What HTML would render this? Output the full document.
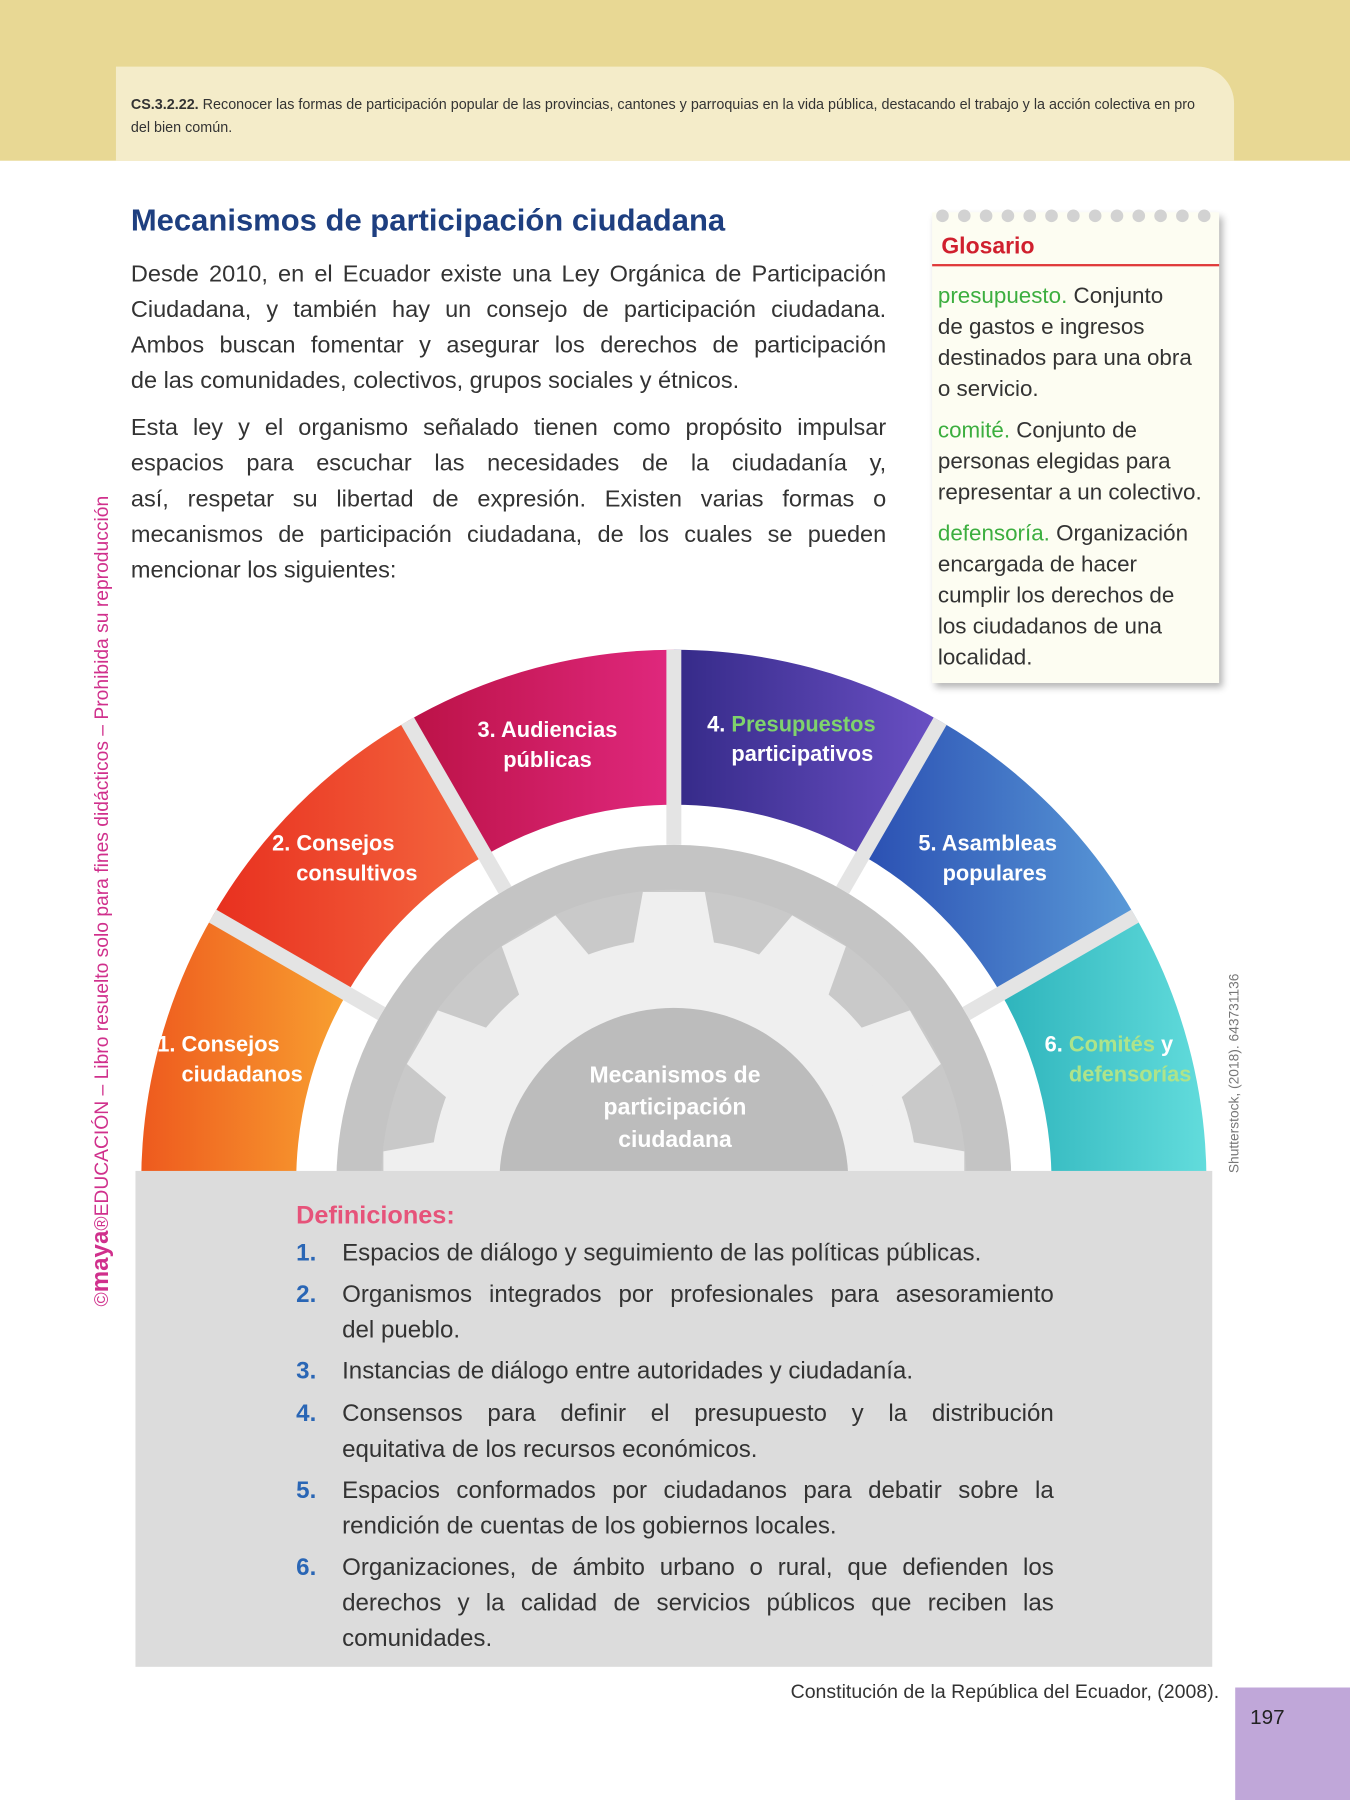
<!DOCTYPE html>
<html><head><meta charset="utf-8">
<style>
html,body{margin:0;padding:0;background:#fff;}
body{width:1350px;height:1800px;overflow:hidden;position:relative;}
#w{position:absolute;left:0;top:0;width:1176px;height:1568px;transform:scale(1.14796);transform-origin:0 0;font-family:"Liberation Sans",sans-serif;color:#333;}
.a{position:absolute;white-space:nowrap;}
.p{position:absolute;left:114px;width:658px;font-size:20.5px;line-height:31px;color:#333;}
.p div{white-space:nowrap;text-align:justify;text-align-last:justify;}
.p div.l{text-align-last:left;}
.g{position:absolute;left:817px;font-size:19.5px;line-height:27px;color:#333;}
.gr{color:#3cae3f;}
.lab{position:absolute;color:#fff;font-weight:bold;font-size:19px;line-height:26px;white-space:nowrap;}
.d{position:absolute;left:258px;width:660px;font-size:21px;line-height:31px;color:#333;}
.d b{position:absolute;left:0;color:#2a66b5;}
.d .t{margin-left:40px;}
.d .t div{white-space:nowrap;text-align:justify;text-align-last:justify;}
.d .t div.l{text-align-last:left;}
</style></head><body><div id="w">
<div class="a" style="left:0;top:0;width:1176px;height:140px;background:#e8d894;"></div>
<div class="a" style="left:101px;top:58px;width:974px;height:82px;background:#f4ecc9;border-top-right-radius:32px;"></div>
<div class="a" style="left:114px;top:81px;font-size:12.5px;line-height:20px;color:#333;"><b>CS.3.2.22.</b> Reconocer las formas de participación popular de las provincias, cantones y parroquias en la vida pública, destacando el trabajo y la acción colectiva en pro<br>del bien común.</div>

<div class="a" style="left:114px;top:177px;font-size:27px;font-weight:bold;color:#1e3f80;">Mecanismos de participación ciudadana</div>

<div class="p" style="top:223px;">
<div>Desde 2010, en el Ecuador existe una Ley Orgánica de Participación</div>
<div>Ciudadana, y también hay un consejo de participación ciudadana.</div>
<div>Ambos buscan fomentar y asegurar los derechos de participación</div>
<div class="l">de las comunidades, colectivos, grupos sociales y étnicos.</div>
</div>
<div class="p" style="top:357px;">
<div>Esta ley y el organismo señalado tienen como propósito impulsar</div>
<div>espacios para escuchar las necesidades de la ciudadanía y,</div>
<div>así, respetar su libertad de expresión. Existen varias formas o</div>
<div>mecanismos de participación ciudadana, de los cuales se pueden</div>
<div class="l">mencionar los siguientes:</div>
</div>

<!-- Glosario -->
<div class="a" style="left:812px;top:185px;width:250px;height:410px;background:#fdfdf2;box-shadow:3px 4px 6px rgba(0,0,0,0.3);"></div>
<svg class="a" style="left:812px;top:180px;" width="252" height="16">
<g fill="#d2d2d2">
<circle cx="9" cy="8" r="5.5"/><circle cx="28" cy="8" r="5.5"/><circle cx="47" cy="8" r="5.5"/><circle cx="66" cy="8" r="5.5"/><circle cx="85" cy="8" r="5.5"/><circle cx="104" cy="8" r="5.5"/><circle cx="123" cy="8" r="5.5"/><circle cx="142" cy="8" r="5.5"/><circle cx="161" cy="8" r="5.5"/><circle cx="180" cy="8" r="5.5"/><circle cx="199" cy="8" r="5.5"/><circle cx="218" cy="8" r="5.5"/><circle cx="237" cy="8" r="5.5"/>
</g></svg>
<div class="a" style="left:820px;top:204px;font-size:20px;font-weight:bold;color:#d0202e;">Glosario</div>
<div class="a" style="left:812px;top:230px;width:250px;height:2px;background:#e03a3a;"></div>
<div class="g" style="top:245px;"><span class="gr">presupuesto.</span> Conjunto<br>de gastos e ingresos<br>destinados para una obra<br>o servicio.</div>
<div class="g" style="top:362px;"><span class="gr">comité.</span> Conjunto de<br>personas elegidas para<br>representar a un colectivo.</div>
<div class="g" style="top:452px;"><span class="gr">defensoría.</span> Organización<br>encargada de hacer<br>cumplir los derechos de<br>los ciudadanos de una<br>localidad.</div>

<!-- Diagram -->
<svg class="a" style="left:0;top:0;" width="1176" height="1568">
<defs>
<linearGradient id="g1" x1="0" x2="1"><stop offset="0" stop-color="#ee5a1e"/><stop offset="1" stop-color="#f8a030"/></linearGradient>
<linearGradient id="g2" x1="0" x2="1"><stop offset="0" stop-color="#e8301f"/><stop offset="1" stop-color="#f4673f"/></linearGradient>
<linearGradient id="g3" x1="0" x2="1"><stop offset="0" stop-color="#bb1246"/><stop offset="1" stop-color="#e0287e"/></linearGradient>
<linearGradient id="g4" x1="0" x2="1"><stop offset="0" stop-color="#352a88"/><stop offset="1" stop-color="#6a50c4"/></linearGradient>
<linearGradient id="g5" x1="0" x2="1"><stop offset="0" stop-color="#2a4fb2"/><stop offset="1" stop-color="#5a9ad8"/></linearGradient>
<linearGradient id="g6" x1="0" x2="1"><stop offset="0" stop-color="#2eb4bc"/><stop offset="1" stop-color="#62dcdc"/></linearGradient>
</defs>
<path fill="url(#g1)" d="M123 1030 A464 464 0 0 1 185.2 798 L302.1 865.5 A329 329 0 0 0 258 1030 Z"/>
<path fill="url(#g2)" d="M185.2 798 A464 464 0 0 1 355 628.2 L422.5 745.1 A329 329 0 0 0 302.1 865.5 Z"/>
<path fill="url(#g3)" d="M355 628.2 A464 464 0 0 1 587 566 L587 701 A329 329 0 0 0 422.5 745.1 Z"/>
<path fill="url(#g4)" d="M587 566 A464 464 0 0 1 819 628.2 L751.5 745.1 A329 329 0 0 0 587 701 Z"/>
<path fill="url(#g5)" d="M819 628.2 A464 464 0 0 1 988.8 798 L871.9 865.5 A329 329 0 0 0 751.5 745.1 Z"/>
<path fill="url(#g6)" d="M988.8 798 A464 464 0 0 1 1051 1030 L916 1030 A329 329 0 0 0 871.9 865.5 Z"/>
<g stroke="#e4e4e4" stroke-width="13">
<line x1="332.4" y1="883" x2="185.2" y2="798"/>
<line x1="440" y1="775.4" x2="355" y2="628.2"/>
<line x1="587" y1="736" x2="587" y2="566"/>
<line x1="734" y1="775.4" x2="819" y2="628.2"/>
<line x1="841.6" y1="883" x2="988.8" y2="798"/>
</g>
<circle cx="587" cy="1030" r="294" fill="#c4c4c4"/>
<circle cx="587" cy="1030" r="255" fill="#c9c9c9"/>
<g fill="#efefef">
<circle cx="587" cy="1030" r="212"/>
<polygon points="549,838 625,838 614,777 560,777"/>
<polygon points="549,838 625,838 614,777 560,777" transform="rotate(30 587 1030)"/>
<polygon points="549,838 625,838 614,777 560,777" transform="rotate(60 587 1030)"/>
<polygon points="549,838 625,838 614,777 560,777" transform="rotate(90 587 1030)"/>
<polygon points="549,838 625,838 614,777 560,777" transform="rotate(-30 587 1030)"/>
<polygon points="549,838 625,838 614,777 560,777" transform="rotate(-60 587 1030)"/>
<polygon points="549,838 625,838 614,777 560,777" transform="rotate(-90 587 1030)"/>
</g>
<circle cx="587" cy="1030" r="152" fill="#bcbcbc"/>
<rect x="118" y="1020" width="938" height="432" fill="#dcdcdc"/>
</svg>

<div class="lab" style="left:137px;top:898px;">1. Consejos<br>&nbsp;&nbsp;&nbsp;&nbsp;ciudadanos</div>
<div class="lab" style="left:237px;top:723px;">2. Consejos<br>&nbsp;&nbsp;&nbsp;&nbsp;consultivos</div>
<div class="lab" style="left:416px;top:624px;text-align:center;">3. Audiencias<br>públicas</div>
<div class="lab" style="left:616px;top:619px;">4. <span style="color:#7fd36c;">Presupuestos</span><br>&nbsp;&nbsp;&nbsp;&nbsp;participativos</div>
<div class="lab" style="left:800px;top:723px;">5. Asambleas<br>&nbsp;&nbsp;&nbsp;&nbsp;populares</div>
<div class="lab" style="left:910px;top:898px;">6. <span style="color:#aee48a;">Comités</span> y<br>&nbsp;&nbsp;&nbsp;&nbsp;<span style="color:#aee48a;">defensorías</span></div>
<div class="lab" style="left:468px;top:923px;width:240px;text-align:center;font-size:20px;line-height:28px;">Mecanismos de<br>participación<br>ciudadana</div>

<div class="a" style="left:258px;top:1046px;font-size:22px;font-weight:bold;color:#e6537a;">Definiciones:</div>
<div class="d" style="top:1076px;"><b>1.</b><div class="t"><div class="l">Espacios de diálogo y seguimiento de las políticas públicas.</div></div></div>
<div class="d" style="top:1112px;"><b>2.</b><div class="t"><div>Organismos integrados por profesionales para asesoramiento</div><div class="l">del pueblo.</div></div></div>
<div class="d" style="top:1179px;"><b>3.</b><div class="t"><div class="l">Instancias de diálogo entre autoridades y ciudadanía.</div></div></div>
<div class="d" style="top:1216px;"><b>4.</b><div class="t"><div>Consensos para definir el presupuesto y la distribución</div><div class="l">equitativa de los recursos económicos.</div></div></div>
<div class="d" style="top:1283px;"><b>5.</b><div class="t"><div>Espacios conformados por ciudadanos para debatir sobre la</div><div class="l">rendición de cuentas de los gobiernos locales.</div></div></div>
<div class="d" style="top:1350px;"><b>6.</b><div class="t"><div>Organizaciones, de ámbito urbano o rural, que defienden los</div><div>derechos y la calidad de servicios públicos que reciben las</div><div class="l">comunidades.</div></div></div>

<div class="a" style="right:114px;top:1464px;font-size:17px;color:#333;">Constitución de la República del Ecuador, (2008).</div>
<div class="a" style="left:1076px;top:1470px;width:100px;height:98px;background:#c0a7d9;"></div>
<div class="a" style="left:1089px;top:1486px;font-size:18px;color:#222;">197</div>

<div class="a" style="left:88px;top:785px;transform:translate(-50%,-50%) rotate(-90deg);font-size:16.8px;color:#d0308c;">©<b style="font-size:21px;">maya</b>®EDUCACIÓN – Libro resuelto solo para fines didácticos – Prohibida su reproducción</div>
<div class="a" style="left:1075px;top:935px;transform:translate(-50%,-50%) rotate(-90deg);font-size:12px;color:#777;">Shutterstock, (2018). 643731136</div>
</div></body></html>
